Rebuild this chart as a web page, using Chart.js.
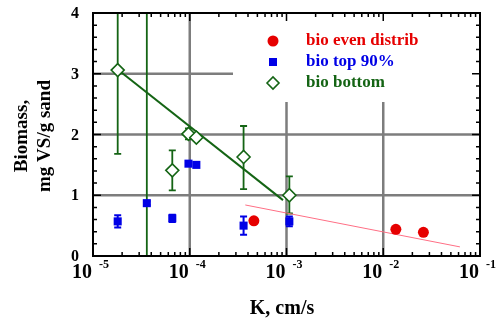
<!DOCTYPE html>
<html>
<head>
<meta charset="utf-8">
<script src="https://cdn.jsdelivr.net/npm/chart.js@4/dist/chart.umd.min.js"></script>
<style>
  body { margin: 0; background: #fff; }
  #wrap { width: 504px; height: 321px; }
</style>
</head>
<body>
<div id="wrap"><canvas id="bioChart" width="504" height="321"></canvas></div>
<script>
'use strict';

// K in cm/s, biomass in mg VS/g sand
const evenK = [4.6e-4, 1.35e-2, 2.6e-2];
const evenBio = [0.58, 0.44, 0.39];

const topK = [1.8e-5, 3.6e-5, 6.6e-5, 9.7e-5, 1.17e-4, 3.6e-4, 1.07e-3];
const topBio = [0.57, 0.87, 0.62, 1.52, 1.5, 0.5, 0.57];
const topErr = [0.1, 0.03, 0.06, 0, 0, 0.15, 0.08];

// second bottom sample: marker is off scale, only its error bar shows
const bottomK = [1.8e-5, 3.6e-5, 6.6e-5, 9.7e-5, 1.17e-4, 3.6e-4, 1.07e-3];
const bottomBio = [3.06, null, 1.41, 2.01, 1.95, 1.63, 1.0];
const bottomLow = [1.68, 0, 1.08, 1.92, 1.89, 1.1, 0.7];
const bottomHigh = [4.44, 9.0, 1.74, 2.1, 2.01, 2.14, 1.31];

// fit lines
const bottomFitK = [1.8e-5, 9.2e-4];
const bottomFitBio = [3.07, 0.92];
const evenFitK = [3.75e-4, 6.2e-2];
const evenFitBio = [0.84, 0.15];

// axis ticks
const xDecades = [1e-5, 1e-4, 1e-3, 1e-2, 1e-1];
const xExponents = ['-5', '-4', '-3', '-2', '-1'];
const yTicks = [0, 1, 2, 3, 4];

const legendLabels = ['bio even distrib', 'bio top 90%', 'bio bottom'];

const RED = '#e60000';
const BLUE = '#0000e6';
const GREEN = '#146414';
const FONT = '"Liberation Serif", "DejaVu Serif", serif';

const toPoints = (xs, ys) => xs.map((x, i) => ({ x: x, y: ys[i] }));

// gridlines, legend box and error bars under the markers
const underlay = {
  id: 'underlay',
  beforeDatasetsDraw(chart) {
    const { ctx, chartArea: a, scales } = chart;
    const xs = scales.x, ys = scales.y;
    ctx.save();
    ctx.strokeStyle = '#7d7d7d';
    ctx.lineWidth = 2.5;
    xDecades.slice(1, -1).forEach(v => {
      const px = xs.getPixelForValue(v);
      ctx.beginPath(); ctx.moveTo(px, a.top); ctx.lineTo(px, a.bottom); ctx.stroke();
    });
    yTicks.slice(1, -1).forEach(v => {
      const py = ys.getPixelForValue(v);
      ctx.beginPath(); ctx.moveTo(a.left, py); ctx.lineTo(a.right, py); ctx.stroke();
    });
    // legend background hides the grid behind it
    ctx.fillStyle = '#fff';
    ctx.fillRect(233, a.top, a.right - 233, 102 - a.top);

    ctx.beginPath();
    ctx.rect(a.left, a.top, a.right - a.left, a.bottom - a.top);
    ctx.clip();

    const bar = (k, lo, hi, color, w) => {
      const px = xs.getPixelForValue(k);
      const p1 = ys.getPixelForValue(lo), p2 = ys.getPixelForValue(hi);
      ctx.strokeStyle = color;
      ctx.lineWidth = w;
      ctx.beginPath();
      ctx.moveTo(px, p1); ctx.lineTo(px, p2);
      ctx.moveTo(px - 3.5, p1); ctx.lineTo(px + 3.5, p1);
      ctx.moveTo(px - 3.5, p2); ctx.lineTo(px + 3.5, p2);
      ctx.stroke();
    };
    bottomK.forEach((k, i) => bar(k, bottomLow[i], bottomHigh[i], GREEN, 1.8));
    topK.forEach((k, i) => {
      if (topErr[i] > 0) bar(k, topBio[i] - topErr[i], topBio[i] + topErr[i], BLUE, 2);
    });
    ctx.restore();
  },
};

// frame, ticks, labels, titles and legend on top
const overlay = {
  id: 'overlay',
  afterDatasetsDraw(chart) {
    const { ctx, chartArea: a, scales } = chart;
    const xs = scales.x, ys = scales.y;
    ctx.save();
    ctx.strokeStyle = '#000';
    ctx.lineWidth = 1.5;
    // x ticks (log minor and decades) on bottom and top
    for (let d = 0; d < xDecades.length - 1; d++) {
      for (let m = 1; m < 10; m++) {
        const px = xs.getPixelForValue(xDecades[d] * m);
        const len = m === 1 ? 8 : 4;
        ctx.beginPath();
        ctx.moveTo(px, a.bottom); ctx.lineTo(px, a.bottom - len);
        ctx.moveTo(px, a.top); ctx.lineTo(px, a.top + len);
        ctx.stroke();
      }
    }
    // y ticks every 0.2 on left and right
    for (let v = 0; v <= 4.001; v += 0.2) {
      const py = ys.getPixelForValue(v);
      const major = Math.abs(v - Math.round(v)) < 0.01;
      const len = major ? 8 : 4;
      ctx.beginPath();
      ctx.moveTo(a.left, py); ctx.lineTo(a.left + len, py);
      ctx.moveTo(a.right, py); ctx.lineTo(a.right - len, py);
      ctx.stroke();
    }
    ctx.lineWidth = 2;
    ctx.strokeRect(a.left, a.top, a.right - a.left, a.bottom - a.top);

    // tick labels
    ctx.fillStyle = '#000';
    ctx.font = 'bold 16px ' + FONT;
    ctx.textAlign = 'right';
    ctx.textBaseline = 'middle';
    yTicks.forEach(v => ctx.fillText(String(v), 79, ys.getPixelForValue(v) + 1));

    ctx.textBaseline = 'alphabetic';
    xDecades.forEach((v, i) => {
      const px = xs.getPixelForValue(v);
      ctx.font = 'bold 20px ' + FONT;
      ctx.textAlign = 'right';
      ctx.fillText('10', px - 1, 278);
      ctx.font = 'bold 12px ' + FONT;
      ctx.textAlign = 'left';
      ctx.fillText(xExponents[i], px + 6, 268);
    });

    // axis titles
    ctx.font = 'bold 20px ' + FONT;
    ctx.textAlign = 'center';
    ctx.fillText('K, cm/s', 282, 314);
    ctx.save();
    ctx.translate(0, 136);
    ctx.rotate(-Math.PI / 2);
    ctx.font = 'bold 19px ' + FONT;
    ctx.fillText('Biomass,', 0, 27);
    ctx.fillText('mg VS/g sand', 0, 50);
    ctx.restore();

    // legend
    const lx = 273, tx = 306;
    const rows = [41, 62, 83];
    ctx.font = 'bold 17px ' + FONT;
    ctx.textAlign = 'left';
    ctx.textBaseline = 'middle';
    ctx.fillStyle = RED;
    ctx.beginPath(); ctx.arc(lx, rows[0], 5.5, 0, Math.PI * 2); ctx.fill();
    ctx.fillText(legendLabels[0], tx, rows[0]);
    ctx.fillStyle = BLUE;
    ctx.fillRect(lx - 4, rows[1] - 4, 8, 8);
    ctx.fillText(legendLabels[1], tx, rows[1]);
    ctx.strokeStyle = GREEN;
    ctx.lineWidth = 1.6;
    ctx.beginPath();
    ctx.moveTo(lx - 6, rows[2]); ctx.lineTo(lx, rows[2] - 6);
    ctx.lineTo(lx + 6, rows[2]); ctx.lineTo(lx, rows[2] + 6);
    ctx.closePath(); ctx.stroke();
    ctx.fillStyle = GREEN;
    ctx.fillText(legendLabels[2], tx, rows[2]);
    ctx.restore();
  },
};

new Chart(document.getElementById('bioChart').getContext('2d'), {
  type: 'scatter',
  data: {
    datasets: [
      {
        label: legendLabels[0],
        data: toPoints(evenK, evenBio),
        pointStyle: 'circle',
        pointRadius: 5.5,
        backgroundColor: RED,
        borderColor: RED,
        borderWidth: 0,
      },
      {
        label: legendLabels[1],
        data: toPoints(topK, topBio),
        pointStyle: 'rect',
        pointRadius: 5.7,
        backgroundColor: BLUE,
        borderColor: BLUE,
        borderWidth: 0,
      },
      {
        label: legendLabels[2],
        data: toPoints(bottomK, bottomBio),
        pointStyle: 'rectRot',
        pointRadius: 6.5,
        backgroundColor: '#fff',
        borderColor: GREEN,
        borderWidth: 1.6,
      },
      {
        label: 'bottom fit',
        data: toPoints(bottomFitK, bottomFitBio),
        showLine: true,
        pointRadius: 0,
        borderColor: GREEN,
        borderWidth: 2,
      },
      {
        label: 'even fit',
        data: toPoints(evenFitK, evenFitBio),
        showLine: true,
        pointRadius: 0,
        borderColor: '#ff6f85',
        borderWidth: 1,
      },
    ],
  },
  options: {
    responsive: false,
    animation: false,
    layout: { padding: { left: 93, right: 24, top: 13, bottom: 65 } },
    plugins: {
      legend: { display: false },
      tooltip: { enabled: false },
    },
    scales: {
      x: { type: 'logarithmic', min: 1e-5, max: 1e-1, display: false },
      y: { type: 'linear', min: 0, max: 4, display: false },
    },
  },
  plugins: [underlay, overlay],
});
</script>
</body>
</html>
